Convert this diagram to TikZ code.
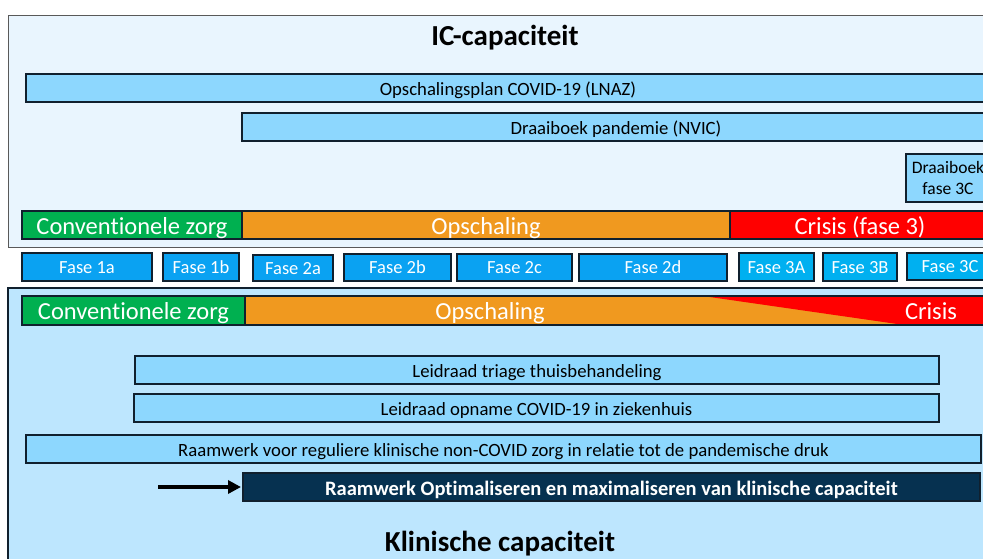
\documentclass[tikz,border=0pt]{standalone}
\usepackage{fontspec}
\setmainfont{Carlito}[Ligatures={NoCommon}]
\usetikzlibrary{arrows.meta}
\definecolor{panelA}{HTML}{E9F5FE}
\definecolor{panelB}{HTML}{BDE6FE}
\definecolor{barfill}{HTML}{8DD7FE}
\definecolor{edge}{HTML}{10202E}
\definecolor{cgreen}{HTML}{00B050}
\definecolor{corange}{HTML}{F0991F}
\definecolor{cred}{HTML}{FF0000}
\definecolor{phaseA}{HTML}{0AA2F2}
\definecolor{phaseB}{HTML}{00B0F0}
\definecolor{navy}{HTML}{063150}
\tikzset{
  x=1pt, y=-1pt,
  base/.style={inner sep=0pt, outer sep=0pt, align=center},
  bar/.style={base, draw=edge, line width=1.3pt, fill=barfill, text=black,
    font=\fontsize{18.7}{21}\selectfont, text height=15.4pt, text depth=0pt},
  statustext/.style={base, text=white, font=\fontsize{24.5}{27}\selectfont,
    text height=18.2pt, text depth=0pt},
  statusbar/.style={statustext, draw=edge, line width=1.1pt},
  phase/.style={base, draw=edge, line width=1.3pt, fill=phaseA, text=white,
    font=\fontsize{18.5}{21}\selectfont, text height=12.6pt, text depth=0pt},
  title/.style={base, font=\bfseries\fontsize{29}{32}\selectfont},
}
% box from corner (x1,y1) to corner (x2,y2)
\newcommand\boxat[6][]{%
  \node[#1, minimum width=\the\dimexpr #4pt-#2pt\relax, minimum height=\the\dimexpr #5pt-#3pt\relax]
    (#6) at ({(#2+#4)/2},{(#3+#5)/2})}
\begin{document}
\begin{tikzpicture}
\useasboundingbox (0,0) rectangle (983,558);
\clip (0,0) rectangle (983,558);
\fill[white] (0,0) rectangle (983,558);

% upper panel: IC capacity
\boxat[base, draw=gray!70!black, line width=0.9pt, fill=panelA]{8}{15}{1003}{247}{icpanel} {};
\node[title] (ictitle) at (505,38) {IC-capaciteit};
\boxat[bar]{26}{74}{990}{102}{lnaz} {Opschalingsplan COVID-19 (LNAZ)};
\boxat[bar]{242}{113}{990}{141}{nvic} {Draaiboek pandemie (NVIC)};
\boxat[bar, font=\fontsize{17.5}{21.5}\selectfont, text height=, text depth=]{906}{154}{990}{202}{dbk} {Draaiboek\\fase 3C};
\boxat[statusbar, fill=cgreen]{22}{211}{242}{239}{icconv} {Conventionele zorg};
\boxat[statusbar, fill=corange]{242}{211}{730}{239}{icops} {Opschaling};
\boxat[statusbar, fill=cred]{730}{211}{990}{239}{iccrisis} {Crisis (fase 3)};

% phases
\boxat[phase]{22}{253}{152}{281}{f1a} {Fase 1a};
\boxat[phase]{163}{253}{239}{281}{f1b} {Fase 1b};
\boxat[phase]{253}{255}{333}{281}{f2a} {Fase 2a};
\boxat[phase]{344}{254}{451}{281}{f2b} {Fase 2b};
\boxat[phase]{457}{254}{572}{281}{f2c} {Fase 2c};
\boxat[phase]{579}{254}{727}{281}{f2d} {Fase 2d};
\boxat[phase, fill=phaseB]{739}{253}{814}{281}{f3a} {Fase 3A};
\boxat[phase, fill=phaseB]{823}{253}{897}{281}{f3b} {Fase 3B};
\boxat[phase, fill=phaseB]{907}{253}{993}{280}{f3c} {Fase 3C};

% lower panel: clinical capacity
\boxat[base, draw=edge, line width=1.4pt, fill=panelB]{8}{288}{1003}{575}{klpanel} {};
\boxat[statusbar, fill=cgreen]{22}{296}{245}{325}{klconv} {Conventionele zorg};
\boxat[statusbar, fill=corange]{245}{296}{990}{325}{klops} {};
\fill[cred] (707,296.6) -- (990,296.6) -- (990,324.4) -- (900,324.4) -- cycle;
\draw[edge, line width=1.1pt] (klops.north west) rectangle (klops.south east);
\node[statustext] (klopstxt) at (490,310.5) {Opschaling};
\node[statustext] (klcrisis) at (931,310) {Crisis};

\boxat[bar]{135}{356}{939}{384}{triage} {Leidraad triage thuisbehandeling};
\boxat[bar]{134}{394}{939}{422}{opname} {Leidraad opname COVID-19 in ziekenhuis};
\boxat[bar]{26}{435}{981}{463}{raam} {Raamwerk voor reguliere klinische non-COVID zorg in relatie tot de pandemische druk};
\boxat[bar, fill=navy, text=white, font=\bfseries\fontsize{20.5}{22}\selectfont, text height=16pt]{243}{473}{980}{501}{optim} {Raamwerk Optimaliseren en maximaliseren van klinische capaciteit};
\coordinate (arrstart) at (158,487);
\draw[line width=3.6pt, -{Triangle[length=13pt, width=13pt]}] (arrstart) -- ([xshift=-2pt]optim.west);
\node[title] (kltitle) at (500,544) {Klinische capaciteit};
\end{tikzpicture}
\end{document}
